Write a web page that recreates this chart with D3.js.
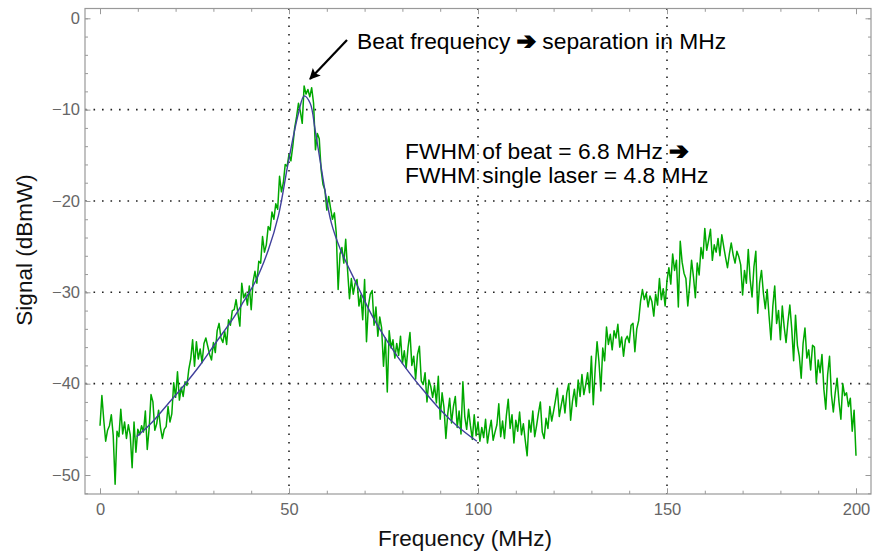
<!DOCTYPE html>
<html><head><meta charset="utf-8">
<script src="https://cdn.jsdelivr.net/npm/d3@7"></script>
<style>
body{margin:0;background:#fff;}
svg{display:block;font-family:"Liberation Sans",Arial,sans-serif;}
</style></head>
<body><svg id="chart" width="872" height="553"></svg>
<script>
// Frequency grid (MHz) of the measured trace
const freqStart = 0, freqStep = 0.5;
// Measured beat signal (dBmW), one value per 0.5 MHz from 0 to 200 MHz
const signal = [
-44.6,-41.3,-44.0,-46.3,-45.1,-44.6,-43.4,-45.7,-51.0,-45.2,
-45.8,-42.8,-45.5,-44.2,-46.0,-44.5,-45.6,-49.2,-44.2,-47.5,
-45.0,-45.6,-44.6,-45.3,-43.0,-47.2,-44.9,-41.2,-42.0,-45.1,
-44.4,-42.9,-44.8,-46.0,-45.0,-44.7,-42.5,-44.2,-43.3,-39.9,
-41.5,-38.7,-41.8,-40.4,-41.4,-39.8,-40.2,-38.4,-37.3,-35.2,
-38.1,-35.4,-37.3,-36.2,-37.7,-35.6,-35.0,-35.9,-36.8,-37.4,
-35.5,-36.6,-34.2,-33.4,-35.0,-35.5,-34.3,-35.7,-33.0,-33.6,
-32.0,-31.9,-30.8,-32.3,-33.7,-29.0,-30.6,-30.1,-31.4,-29.3,
-31.9,-28.8,-27.7,-29.0,-26.6,-26.8,-23.9,-25.6,-24.8,-22.8,
-23.2,-21.2,-22.0,-20.3,-20.9,-17.3,-19.0,-18.0,-16.0,-16.2,
-14.9,-15.6,-14.0,-12.0,-10.8,-9.3,-10.2,-11.5,-7.4,-8.3,
-7.8,-8.6,-7.6,-9.3,-14.4,-12.6,-13.2,-16.6,-18.2,-18.8,
-21.0,-19.5,-20.8,-22.0,-21.3,-23.5,-29.7,-25.8,-25.1,-26.8,
-24.2,-27.6,-30.7,-28.5,-30.2,-29.0,-28.6,-31.5,-30.3,-33.0,
-28.6,-35.4,-31.5,-30.2,-29.8,-33.6,-31.6,-34.8,-32.7,-33.9,
-38.1,-35.0,-40.9,-34.2,-36.1,-35.2,-37.2,-35.6,-36.9,-34.8,
-37.8,-36.4,-38.3,-36.0,-34.4,-38.0,-37.0,-39.5,-36.8,-35.9,
-39.7,-40.1,-38.8,-42.0,-39.6,-40.3,-41.5,-40.2,-42.1,-39.2,
-43.9,-41.0,-42.6,-46.0,-43.3,-41.6,-44.3,-42.5,-41.4,-44.8,
-43.0,-45.5,-39.8,-43.6,-45.0,-42.8,-44.6,-46.1,-43.4,-45.7,
-44.2,-46.3,-44.8,-45.9,-43.9,-46.5,-45.1,-44.0,-46.2,-45.3,
-44.5,-42.2,-45.8,-44.1,-46.0,-43.5,-41.7,-44.9,-43.4,-46.5,
-44.0,-45.2,-43.1,-45.6,-44.4,-46.2,-47.9,-44.0,-45.3,-43.0,
-45.8,-44.6,-43.2,-42.0,-45.3,-46.0,-43.8,-44.9,-42.5,-44.1,
-43.0,-41.8,-40.5,-43.6,-42.4,-41.3,-43.2,-41.0,-40.0,-44.0,
-41.9,-40.6,-42.5,-39.6,-41.4,-39.0,-41.2,-40.1,-38.8,-41.0,
-37.0,-42.3,-38.4,-35.4,-37.6,-40.8,-36.1,-37.5,-33.8,-35.7,
-34.6,-36.3,-34.2,-35.0,-33.5,-36.0,-34.9,-37.0,-35.2,-34.8,
-35.5,-33.6,-33.4,-36.5,-34.0,-33.1,-31.0,-29.7,-30.8,-30.1,
-31.6,-30.4,-31.0,-32.6,-30.2,-31.4,-28.5,-30.8,-29.6,-31.5,
-28.7,-27.3,-29.1,-25.8,-27.6,-26.5,-31.6,-24.4,-26.7,-27.9,
-28.5,-31.5,-29.2,-26.5,-28.3,-30.6,-26.8,-28.1,-25.1,-26.3,
-23.0,-25.4,-24.3,-23.1,-26.5,-24.8,-25.6,-24.1,-26.0,-23.7,
-25.0,-26.2,-27.3,-25.8,-24.6,-25.9,-26.8,-25.5,-26.1,-27.0,
-30.3,-27.6,-29.0,-25.3,-28.6,-30.5,-27.2,-25.5,-32.3,-29.0,
-27.6,-30.1,-31.8,-29.7,-32.6,-35.2,-31.5,-29.3,-33.4,-32.0,
-35.2,-31.5,-33.8,-35.5,-33.2,-31.4,-34.0,-37.5,-32.5,-35.8,
-37.0,-39.4,-35.6,-33.9,-37.2,-36.3,-38.5,-35.8,-36.0,-39.9,
-37.4,-38.8,-36.8,-40.6,-42.8,-39.0,-37.0,-41.2,-43.1,-41.0,
-39.4,-42.0,-43.9,-40.0,-41.3,-41.0,-42.5,-41.6,-45.2,-42.9,
-47.9
];
// Lorentzian fit: frequency (MHz) and level (dBmW)
const fitFreq  = [9.7, 13.4, 17.8, 22.2, 26.6, 31.0, 35.5, 38.0, 41.0, 44.5, 47.2, 49.8, 52.5, 54.0, 55.6, 56.9, 58.2, 59.5, 61.2, 63.6, 67.9, 72.3, 76.7, 81.1, 85.5, 89.9, 94.4, 99.7];
const fitLevel = [-45.8, -44.4, -42.3, -40.2, -37.9, -35.3, -32.7, -31.0, -28.9, -25.4, -21.6, -15.8, -10.4, -8.5, -9.3, -12.2, -15.5, -18.8, -22.4, -25.3, -29.1, -32.8, -35.8, -38.4, -40.7, -42.8, -44.6, -46.3];
// Axis ticks
const xMajorTicks = [0, 50, 100, 150, 200];
const xMinorTicks = [0,10,20,30,40,50,60,70,80,90,100,110,120,130,140,150,160,170,180,190,200];
const yMajorTicks = [0, -10, -20, -30, -40, -50];
const yMinorTicks = [0,-2,-4,-6,-8,-10,-12,-14,-16,-18,-20,-22,-24,-26,-28,-30,-32,-34,-36,-38,-40,-42,-44,-46,-48,-50,-52];
const xGrid = [50, 100, 150];
const yGrid = [-10, -20, -30, -40];
const xLabel = "Frequency (MHz)";
const yLabel = "Signal (dBmW)";
const note1 = ["Beat frequency ", "\u2794", " separation in MHz"];
const note2a = ["FWHM of beat = 6.8 MHz ", "\u2794"];
const note2b = "FWHM single laser = 4.8 MHz";

const svg = d3.select("#chart");
const L = 85, R = 871, T = 8.5, B = 494;
const x = d3.scaleLinear().domain([0, 200]).range([100, 856]);
const y = d3.scaleLinear().domain([0, -50]).range([18.3, 475]);

// grid
const g = svg.append("g");
g.selectAll(".gx").data(xGrid).join("line")
  .attr("x1", d => x(d)).attr("x2", d => x(d)).attr("y1", T).attr("y2", B)
  .attr("stroke", "#222").attr("stroke-width", 1.6).attr("stroke-dasharray", "1.6,6.9");
g.selectAll(".gy").data(yGrid).join("line")
  .attr("y1", d => y(d)).attr("y2", d => y(d)).attr("x1", L).attr("x2", R)
  .attr("stroke", "#222").attr("stroke-width", 1.6).attr("stroke-dasharray", "1.6,6.9");

// axes
const tickCol = "#999";
function styleAxis(sel){
  sel.select(".domain").remove();
  sel.selectAll(".tick line").attr("stroke", tickCol);
  sel.selectAll(".tick text").attr("fill", "#666").style("font-size", "16.5px")
     .style("font-family", "'Liberation Sans',Arial,sans-serif");
}
const inRangeY = t => y(t) >= T && y(t) <= B;
svg.append("g").attr("transform", `translate(0,${B})`)
  .call(d3.axisBottom(x).tickValues(xMinorTicks).tickSize(-3.3).tickFormat("")).call(styleAxis);
svg.append("g").attr("transform", `translate(0,${B})`)
  .call(d3.axisBottom(x).tickValues(xMajorTicks).tickSize(-5.7).tickPadding(9)).call(styleAxis);
svg.append("g").attr("transform", `translate(0,${T})`)
  .call(d3.axisTop(x).tickValues(xMinorTicks).tickSize(-3.3).tickFormat("")).call(styleAxis);
svg.append("g").attr("transform", `translate(0,${T})`)
  .call(d3.axisTop(x).tickValues(xMajorTicks).tickSize(-5.7).tickFormat("")).call(styleAxis);
svg.append("g").attr("transform", `translate(${L},0)`)
  .call(d3.axisLeft(y).tickValues(yMinorTicks.filter(inRangeY)).tickSize(-3).tickFormat("")).call(styleAxis);
svg.append("g").attr("transform", `translate(${L},0)`)
  .call(d3.axisLeft(y).tickValues(yMajorTicks).tickSize(-5.5).tickPadding(5)).call(styleAxis);
svg.append("g").attr("transform", `translate(${R},0)`)
  .call(d3.axisRight(y).tickValues(yMinorTicks.filter(inRangeY)).tickSize(-3).tickFormat("")).call(styleAxis);
svg.append("g").attr("transform", `translate(${R},0)`)
  .call(d3.axisRight(y).tickValues(yMajorTicks).tickSize(-5.5).tickFormat("")).call(styleAxis);

// frame
svg.append("rect").attr("x", L).attr("y", T).attr("width", R - L).attr("height", B - T)
  .attr("fill", "none").attr("stroke", tickCol).attr("stroke-width", 1.2);

// data
const pts = signal.map((v, i) => [freqStart + i * freqStep, v]);
svg.append("path").datum(pts)
  .attr("d", d3.line().x(d => x(d[0])).y(d => y(d[1])))
  .attr("fill", "none").attr("stroke", "#00a800").attr("stroke-width", 1.5).attr("stroke-linejoin", "round");
const fit = fitFreq.map((f, i) => [f, fitLevel[i]]);
svg.append("path").datum(fit)
  .attr("d", d3.line().curve(d3.curveCatmullRom.alpha(0.5)).x(d => x(d[0])).y(d => y(d[1])))
  .attr("fill", "none").attr("stroke", "#40409c").attr("stroke-width", 1.4);

// labels
svg.append("text").attr("x", 465).attr("y", 546).attr("text-anchor", "middle")
  .style("font-size", "22.5px").attr("fill", "#111").text(xLabel);
svg.append("text").attr("transform", "translate(32,250) rotate(-90)").attr("text-anchor", "middle")
  .style("font-size", "22.5px").attr("fill", "#111").text(yLabel);

// annotations
svg.append("defs").append("marker").attr("id", "ah").attr("viewBox", "0 0 10 10")
  .attr("refX", 9).attr("refY", 5).attr("markerWidth", 13).attr("markerHeight", 11)
  .attr("markerUnits", "userSpaceOnUse").attr("orient", "auto")
  .append("path").attr("d", "M0,0 L10,5 L0,10 L2,5 Z").attr("fill", "#000");
svg.append("line").attr("x1", 347).attr("y1", 40).attr("x2", 310).attr("y2", 79)
  .attr("stroke", "#000").attr("stroke-width", 2.2).attr("marker-end", "url(#ah)");

function richText(xp, yp, parts){
  const t = svg.append("text").attr("x", xp).attr("y", yp).style("font-size", "22.8px").attr("fill", "#000");
  parts.forEach(p => {
    const s = t.append("tspan").text(p);
    if (p === "\u2794") s.style("font-family", "'DejaVu Sans'").style("font-size", "23px")
      .attr("stroke", "#000").attr("stroke-width", 1.6).attr("stroke-linejoin", "miter");
  });
}
richText(357, 49, note1);
richText(405, 159, note2a);
richText(405, 183, [note2b]);
</script></body></html>
